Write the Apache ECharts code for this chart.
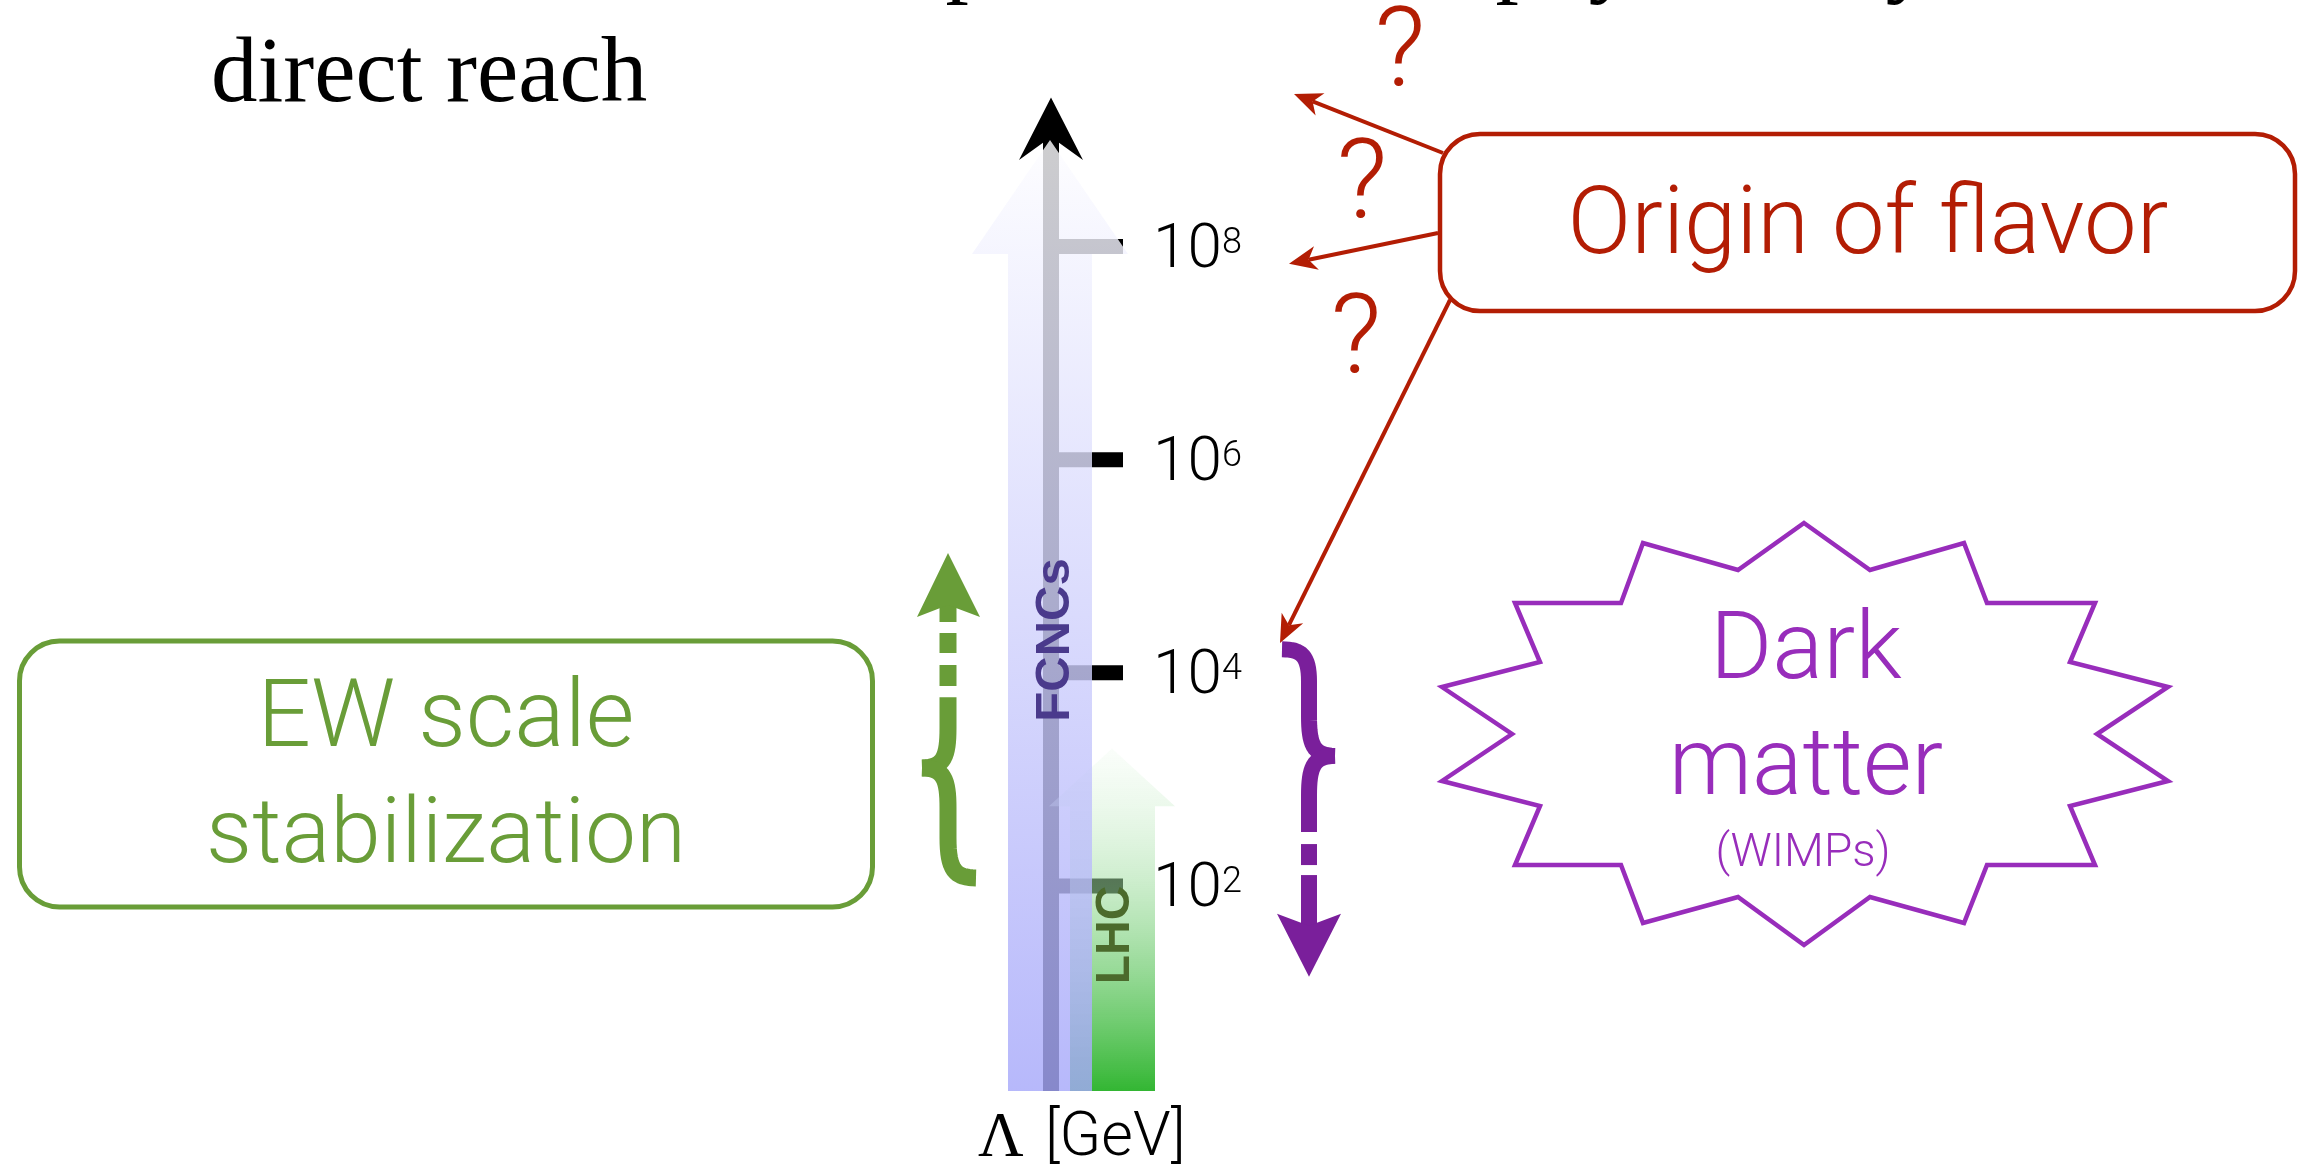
<!DOCTYPE html>
<html><head><meta charset="utf-8">
<script src="https://cdn.jsdelivr.net/npm/echarts@6/dist/echarts.min.js"></script>
<style>html,body{margin:0;padding:0;background:#fff;}#c{width:2311px;height:1168px;}</style>
</head><body><div id="c"></div>
<script>
// ---------- data ----------
const tickExponents = [2, 4, 6, 8];
const tickBase = '10';
const axisName = ['Λ', '[GeV]'];
const axisRange = [1, 1e9];
const axisArrowTip = 2.5e9;
const reachNames = ['FCNCs', 'LHC'];
const reachFrom = [1.19, 1.19];
const reachShaftTop = [8.5e7, 560];
const reachTip = [1.0e9, 1950];
const titleLines = ['Indirect probes of new physics beyond', 'direct reach'];
const ewLabel = ['EW scale', 'stabilization'];
const ewBrace = [100, 1280, 5900];      // bottom, cusp, top of brace
const ewArrowTip = 1.33e5;
const dmLabel = ['Dark', 'matter', '(WIMPs)'];
const dmBrace = [320, 1660, 16600];     // bottom of solid part, cusp, top hook
const dmArrowTip = 14;
const flavorLabel = 'Origin of flavor';
const flavorTargets = [2.7e9, 6.9e7, 1.9e4];
const questionMarks = ['?', '?', '?'];

// ---------- styles ----------
const SANS = "'Helvetica Neue', Roboto, 'Liberation Sans', sans-serif";
const SERIF = "'Liberation Serif', 'Times New Roman', serif";
const GREEN = '#699d38', PURPLE = '#982dbb', PURPLE_D = '#7a1f9b', RED = '#b31d04';

const chart = echarts.init(document.getElementById('c'), null, {renderer: 'canvas', width: 2311, height: 1168});
chart.setOption({
  animation: false,
  grid: {left: 1000, right: 1200, top: 140, bottom: 69},
  xAxis: {type: 'value', min: 0, max: 1, show: false},
  yAxis: {type: 'log', logBase: 10, min: axisRange[0], max: axisRange[1], show: false},
  series: [{type: 'scatter', data: []}]
});
const Y = v => chart.convertToPixel({yAxisIndex: 0}, v);

function txt(text, x, y, size, fill, o) {
  o = o || {};
  return {
    type: 'text', x: x, y: y, rotation: o.rotation || 0, z: o.z || 10, silent: true,
    style: {
      text: text, x: 0, y: 0, fontSize: size, fontFamily: o.family || SANS,
      fontWeight: o.weight || 300, fill: fill,
      align: o.align || 'center', verticalAlign: 'middle',
      textAlign: o.align || 'center', textVerticalAlign: 'middle'
    }
  };
}
function cubic(p0, p1, p2, p3, n) {
  const pts = [];
  for (let i = 0; i <= n; i++) {
    const t = i / n, u = 1 - t;
    pts.push([u*u*u*p0[0] + 3*u*u*t*p1[0] + 3*u*t*t*p2[0] + t*t*t*p3[0],
              u*u*u*p0[1] + 3*u*u*t*p1[1] + 3*u*t*t*p2[1] + t*t*t*p3[1]]);
  }
  return pts;
}
function pline(points, color, w, z) {
  return {type: 'polyline', z: z || 6, silent: true, shape: {points: points},
    style: {stroke: color, lineWidth: w, fill: null, lineCap: 'butt', lineJoin: 'round'}};
}
function arrow(x1, y1, x2, y2, color) {
  const dx = x2 - x1, dy = y2 - y1, L = Math.hypot(dx, dy);
  const ux = dx / L, uy = dy / L, px = -uy, py = ux;
  const hl = 28, hw = 12, nl = 20;
  const bx = x2 - ux * hl, by = y2 - uy * hl;
  const nx = x2 - ux * nl, ny = y2 - uy * nl;
  return [
    {type: 'line', z: 6, silent: true, shape: {x1: x1, y1: y1, x2: nx, y2: ny}, style: {stroke: color, lineWidth: 4}},
    {type: 'polygon', z: 6, silent: true, shape: {points: [[x2, y2], [bx + px*hw, by + py*hw], [nx, ny], [bx - px*hw, by - py*hw]]}, style: {fill: color}}
  ];
}

function build() {
  const g = [];
  const axX = 1051;
  const yb = Y(reachFrom[0]);
  const yAxTop = Y(axisRange[1]);
  // axis line + ticks (black, later covered by translucent columns)
  g.push({type: 'rect', z: 1, silent: true, shape: {x: axX - 8, y: yAxTop - 3, width: 16, height: yb - yAxTop + 3}, style: {fill: '#000'}});
  tickExponents.forEach(e => {
    const ty = Y(Math.pow(10, e));
    g.push({type: 'rect', z: 1, silent: true, shape: {x: axX, y: ty - 7.5, width: 72, height: 15}, style: {fill: '#000'}});
    g.push(txt(tickBase, 1153, ty + 5, 62, '#000', {align: 'left'}));
    g.push(txt(String(e), 1222, ty - 3, 36, '#000', {align: 'left'}));
  });
  // LHC arrow (green)
  {
    const ys = Y(reachShaftTop[1]), yt = Y(reachTip[1]), yB = Y(reachFrom[1]);
    g.push({type: 'polygon', z: 2, silent: true,
      shape: {points: [[1070, yB], [1070, ys], [1049, ys], [1112, yt], [1175, ys], [1155, ys], [1155, yB]]},
      style: {fill: new echarts.graphic.LinearGradient(0, 0, 0, 1, [
        {offset: 0, color: 'rgba(235,250,235,0.25)'},
        {offset: 0.5, color: 'rgba(140,214,140,0.62)'},
        {offset: 1, color: 'rgba(40,178,40,0.95)'}])}});
  }
  // FCNC arrow (blue)
  {
    const ys = Y(reachShaftTop[0]), yt = Y(reachTip[0]), yB = Y(reachFrom[0]);
    g.push({type: 'polygon', z: 3, silent: true,
      shape: {points: [[1008, yB], [1008, ys], [972, ys], [1050, yt], [1128, ys], [1092, ys], [1092, yB]]},
      style: {fill: new echarts.graphic.LinearGradient(0, 0, 0, 1, [
        {offset: 0, color: 'rgba(253,253,255,0.81)'},
        {offset: 1, color: 'rgba(166,168,250,0.81)'}])}});
  }
  // black axis arrow head
  {
    const tip = Y(axisArrowTip);
    g.push({type: 'polygon', z: 4, silent: true,
      shape: {points: [[axX, tip], [axX + 32, yAxTop + 20], [axX, yAxTop - 3], [axX - 32, yAxTop + 20]]},
      style: {fill: '#000'}});
  }
  // column labels
  g.push(txt(reachNames[0], 1055, 640, 49, '#4a3a8c', {rotation: Math.PI / 2, weight: 'bold', family: "'Liberation Sans', Arial, sans-serif"}));
  g.push(txt(reachNames[1], 1116, 935, 48, '#4b6a2c', {rotation: Math.PI / 2, weight: 'bold', family: "'Liberation Sans', Arial, sans-serif"}));
  // axis name
  g.push(txt(axisName[0], 978, 1139, 63, '#000', {align: 'left', family: SERIF, weight: 'normal'}));
  g.push(txt(axisName[1], 1045, 1140, 61, '#000', {align: 'left'}));
  // title
  g.push(txt(titleLines[0], 633, -39, 93, '#000', {align: 'left', family: SERIF, weight: 'normal'}));
  g.push(txt(titleLines[1], 211, 77, 93, '#000', {align: 'left', family: SERIF, weight: 'normal'}));

  // EW box
  g.push({type: 'rect', z: 5, silent: true, shape: {x: 19.5, y: 641, width: 853, height: 266, r: 40},
    style: {fill: 'rgba(0,0,0,0)', stroke: GREEN, lineWidth: 5}});
  g.push(txt(ewLabel[0], 446, 722, 94, GREEN));
  g.push(txt(ewLabel[1], 446, 839, 91, GREEN));
  // green brace + dashed up-arrow
  {
    const sx = 948, cx = 922, hx = 976;
    const yBot = Y(ewBrace[0]), yMid = Y(ewBrace[1]), yTop = Y(ewBrace[2]), yTip = Y(ewArrowTip);
    let up = [[sx, yTop]].concat(cubic([sx, yMid - 40], [sx, yMid - 12], [sx - 4, yMid], [cx, yMid], 16));
    g.push(pline(up, GREEN, 17));
    let lo = cubic([cx, yMid], [sx - 4, yMid], [sx, yMid + 12], [sx, yMid + 40], 16)
      .concat(cubic([sx, yBot - 48], [sx, yBot - 16], [sx + 7, yBot - 8], [hx, yBot - 8], 16));
    g.push(pline(lo, GREEN, 17));
    [[yTip + 50, yTip + 69], [yTip + 80, yTip + 100], [yTip + 112, yTip + 133]].forEach(s => {
      g.push({type: 'rect', z: 6, silent: true, shape: {x: sx - 8.5, y: s[0], width: 17, height: s[1] - s[0]}, style: {fill: GREEN}});
    });
    g.push({type: 'polygon', z: 6, silent: true,
      shape: {points: [[sx, yTip], [sx + 32, yTip + 64], [sx, yTip + 52], [sx - 31, yTip + 64]]}, style: {fill: GREEN}});
  }
  // purple brace + dashed down-arrow
  {
    const sx = 1309, cx = 1335, hx = 1282;
    const ySol = Y(dmBrace[0]), yMid = Y(dmBrace[1]), yTop = Y(dmBrace[2]), yTip = Y(dmArrowTip);
    let up = cubic([hx, yTop], [sx - 8, yTop], [sx, yTop + 6], [sx, yTop + 32], 16)
      .concat(cubic([sx, yMid - 40], [sx, yMid - 12], [sx + 4, yMid], [cx, yMid], 16));
    g.push(pline(up, PURPLE_D, 16));
    let lo = cubic([cx, yMid], [sx + 4, yMid], [sx, yMid + 12], [sx, yMid + 40], 16).concat([[sx, ySol]]);
    g.push(pline(lo, PURPLE_D, 16));
    [[ySol + 12, ySol + 33], [ySol + 43, yTip - 48]].forEach(s => {
      g.push({type: 'rect', z: 6, silent: true, shape: {x: sx - 8, y: s[0], width: 16, height: s[1] - s[0]}, style: {fill: PURPLE_D}});
    });
    g.push({type: 'polygon', z: 6, silent: true,
      shape: {points: [[sx, yTip], [sx + 32, yTip - 63], [sx, yTip - 51], [sx - 32, yTip - 63]]}, style: {fill: PURPLE_D}});
  }
  // Dark matter star
  {
    const pts = [[1804,523],[1870,570],[1964,543],[1987,603],[2095,603],[2070,662],[2168,687],[2097,734],
      [2168,781],[2070,806],[2095,865],[1987,865],[1964,923],[1870,897],[1804,945],[1738,897],[1643,923],
      [1621,865],[1515,865],[1540,806],[1442,781],[1512,734],[1442,687],[1540,662],[1515,603],[1621,603],
      [1643,543],[1738,570]];
    g.push({type: 'polygon', z: 5, silent: true, shape: {points: pts},
      style: {fill: 'rgba(0,0,0,0)', stroke: PURPLE, lineWidth: 4.5, lineJoin: 'miter'}});
    g.push(txt(dmLabel[0], 1806, 654, 95, PURPLE));
    g.push(txt(dmLabel[1], 1806, 770, 94, PURPLE));
    g.push(txt(dmLabel[2], 1803, 854, 46, PURPLE));
  }
  // Origin of flavor
  g.push({type: 'rect', z: 5, silent: true, shape: {x: 1440, y: 134, width: 855, height: 177, r: 40},
    style: {fill: 'rgba(0,0,0,0)', stroke: RED, lineWidth: 4.5}});
  g.push(txt(flavorLabel, 1868, 229, 94, RED));
  const starts = [[1443, 153], [1438, 233], [1450, 300]];
  const tipsX = [1294, 1289, 1280];
  flavorTargets.forEach((v, i) => {
    arrow(starts[i][0], starts[i][1], tipsX[i], Y(v), RED).forEach(e => g.push(e));
  });
  const qPos = [[1400, 58], [1362, 190], [1356, 345]];
  questionMarks.forEach((q, i) => g.push(txt(q, qPos[i][0], qPos[i][1], 112, RED)));
  return g;
}
chart.setOption({graphic: {elements: build()}});
</script>
</body></html>
